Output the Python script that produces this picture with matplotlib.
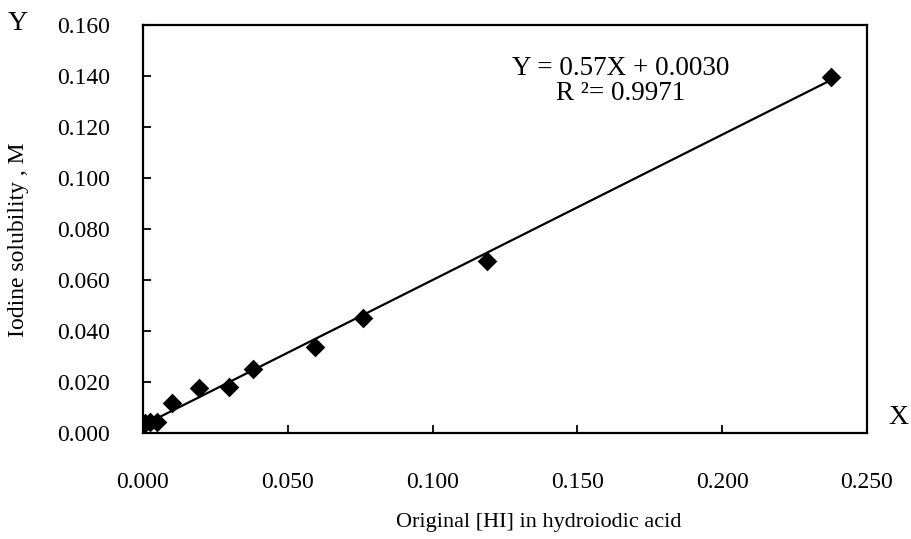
import matplotlib
matplotlib.use("Agg")
import matplotlib.pyplot as plt
import numpy as np

# Data
hi_conc = [0.0007, 0.0025, 0.0050, 0.0100, 0.0193, 0.0297, 0.0380, 0.0594, 0.0760, 0.1188, 0.2376]
iodine_sol = [0.0038, 0.0042, 0.0043, 0.0118, 0.0176, 0.0180, 0.0251, 0.0337, 0.0451, 0.0675, 0.1396]
slope = 0.57
intercept = 0.0030
r_squared = 0.9971
x_ticks = [0.000, 0.050, 0.100, 0.150, 0.200, 0.250]
y_ticks = [0.000, 0.020, 0.040, 0.060, 0.080, 0.100, 0.120, 0.140, 0.160]

plt.rcParams['font.family'] = ['Liberation Serif', 'DejaVu Serif']

W, H = 912, 539
fig = plt.figure(figsize=(W / 100, H / 100), dpi=100)
left, right, top, bottom = 143, 867, 25, 433
ax = fig.add_axes([left / W, 1 - bottom / H, (right - left) / W, (bottom - top) / H])

ax.scatter(hi_conc, iodine_sol, marker='D', s=10 ** 2, color='black', zorder=3, linewidths=0)
xs = np.array([min(hi_conc), max(hi_conc)])
ax.plot(xs, slope * xs + intercept, color='black', lw=1.6, zorder=2)

ax.set_xlim(x_ticks[0], x_ticks[-1])
ax.set_ylim(y_ticks[0], y_ticks[-1])
ax.set_xticks(x_ticks)
ax.set_yticks(y_ticks)
ax.set_xticklabels([f"{v:.3f}" for v in x_ticks])
ax.set_yticklabels([f"{v:.3f}" for v in y_ticks])
ax.tick_params(direction='in', length=6, width=1.3, labelsize=17)
ax.tick_params(axis='y', pad=24)
ax.tick_params(axis='x', pad=28)
for s in ax.spines.values():
    s.set_linewidth(1.6)
    s.set_color('black')

ax.set_xlabel("Original [HI] in hydroiodic acid", fontsize=16)
ax.xaxis.set_label_coords((539 - left) / (right - left), (bottom - 513) / (bottom - top))
ax.set_ylabel("Iodine solubility , M", fontsize=17)
ax.yaxis.set_label_coords((29 - left) / (right - left), (bottom - 240) / (bottom - top))

ax.text(0.660, 0.862, f"Y = {slope:.2f}X + {intercept:.4f}\nR ²= {r_squared:.4f}",
        transform=ax.transAxes, ha='center', va='center', fontsize=19.5,
        linespacing=1.02)

fig.text(18 / W, 1 - 23 / H, "Y", fontsize=20, ha='center', va='center')
fig.text(898 / W, 1 - 417 / H, "X", fontsize=20, ha='center', va='center')

fig.savefig("out.png", dpi=100)
